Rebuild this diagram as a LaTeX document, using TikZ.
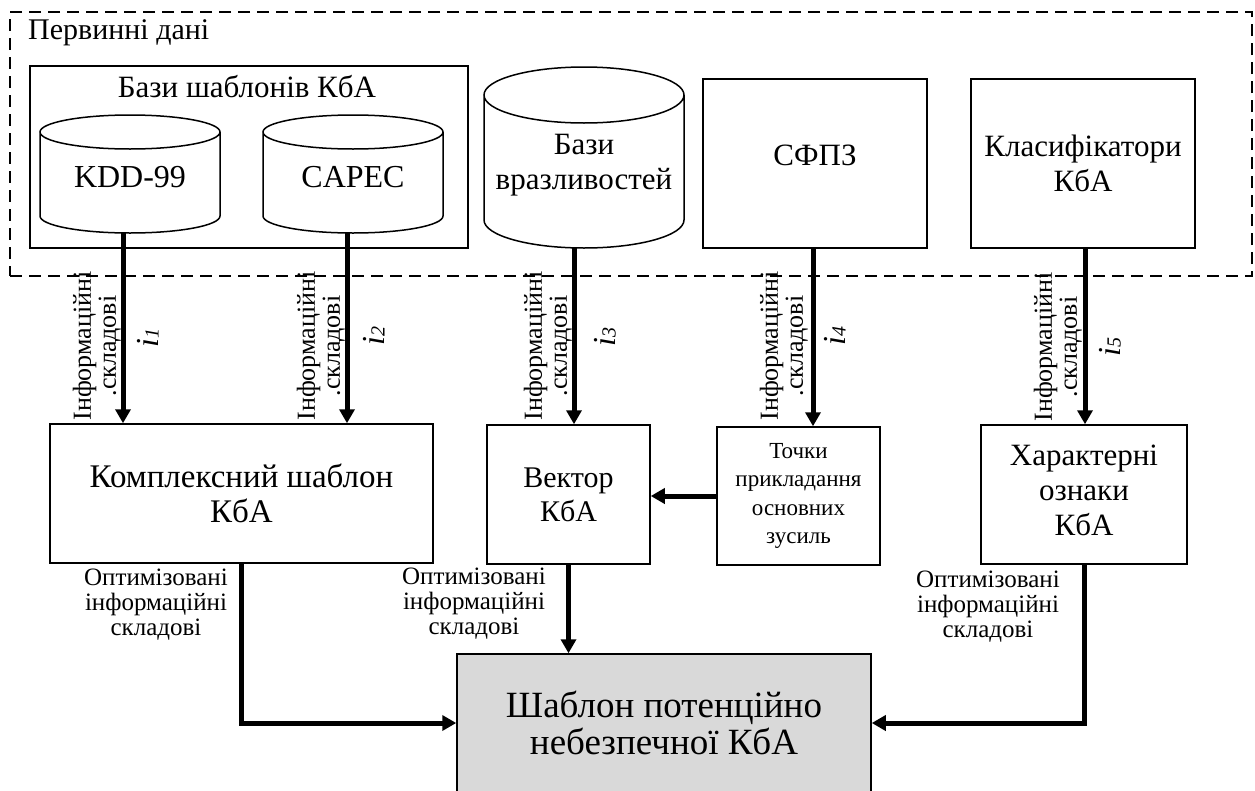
\documentclass[tikz,border=0pt]{standalone}
\usepackage{fontspec}
\setmainfont{Liberation Serif}
\usetikzlibrary{arrows.meta}
\begin{document}
\begin{tikzpicture}[x=1pt,y=-1pt,
  txt/.style 2 args={font=\fontsize{#1}{#2}\selectfont, align=center, inner sep=0pt},
  box/.style={draw, line width=1.5pt, inner sep=0pt},
  hidden/.style={inner sep=0pt},
  cylline/.style={line width=1.5pt},
  flow/.style={line width=5pt, -{Triangle[width=15pt,length=14pt]}},
  frame/.style={draw, line width=2pt, dash pattern=on 12pt off 7pt, inner sep=0pt},
  vlabel/.style={txt={26}{25}, rotate=90, anchor=south},
  ilabel/.style={font=\fontsize{32}{32}\selectfont\itshape, rotate=90, inner sep=0pt},
  optlabel/.style={txt={25}{25}}
]
\clip (0,0) rectangle (1255,790);

% primary data area
\node[frame, minimum width=1242pt, minimum height=264pt] (prim) at (631,144) {};
\node[txt={30}{32}, anchor=base west] (primt) at (28,39) {Первинні дані};

% template bases container
\node[box, minimum width=438pt, minimum height=182pt] (bazy) at (249,157) {};
\node[txt={31}{35}, anchor=base] (bazyt) at (247,97) {Бази шаблонів КбА};

% databases drawn as cylinders
\node[hidden, minimum width=180pt, minimum height=118pt] (kdd) at (130,174) {};
\draw[cylline] (40,132) -- (40,216)
  arc[start angle=180, end angle=360, x radius=90pt, y radius=17pt]
  -- (220,132) arc[start angle=0, end angle=360, x radius=90pt, y radius=17pt];
\node[txt={32}{36}] (kddt) at (130,177) {KDD-99};

\node[hidden, minimum width=180pt, minimum height=118pt] (capec) at (353,174) {};
\draw[cylline] (263,132) -- (263,216)
  arc[start angle=180, end angle=360, x radius=90pt, y radius=17pt]
  -- (443,132) arc[start angle=0, end angle=360, x radius=90pt, y radius=17pt];
\node[txt={32}{36}] (capect) at (353,177) {CAPEC};

\node[hidden, minimum width=200pt, minimum height=182pt] (vrazl) at (584,157) {};
\draw[cylline] (484,95) -- (484,220)
  arc[start angle=180, end angle=360, x radius=100pt, y radius=28pt]
  -- (684,95) arc[start angle=0, end angle=360, x radius=100pt, y radius=28pt];
\node[txt={31}{35}] (vrazlt) at (584,165) {Бази\\вразливостей};

% other sources
\node[box, minimum width=224pt, minimum height=169pt] (sfpz) at (815,163.5) {};
\node[txt={31}{35}] (sfpzt) at (815,155) {СФПЗ};
\node[box, minimum width=224pt, minimum height=169pt, txt={31}{35}] (klas) at (1083,163.5) {Класифікатори\\КбА};

% intermediate blocks
\node[box, minimum width=383pt, minimum height=139pt, txt={33}{35}] (kompl) at (241.5,493.5) {Комплексний шаблон\\КбА};
\node[box, minimum width=163pt, minimum height=139pt, txt={30}{34}] (vektor) at (568.5,494.5) {Вектор\\КбА};
\node[box, minimum width=163pt, minimum height=138pt, txt={23}{28.5}] (tochky) at (798.5,496) {Точки\\прикладання\\основних\\зусиль};
\node[box, minimum width=206pt, minimum height=139pt] (harakt) at (1084,494.5) {};
\node[txt={31}{35}] (haraktt) at (1084,490) {Характерні\\ознаки\\КбА};

% resulting template
\node[box, fill={rgb,255:red,217;green,217;blue,217}, minimum width=414pt, minimum height=138pt, txt={37}{37}] (shablon) at (664,723) {Шаблон потенційно\\небезпечної КбА};

% information components flowing down
\draw[flow] ([xshift=-7pt]kdd.south) -- ([xshift=-7pt]kdd.south |- kompl.north);
\draw[flow] ([xshift=-6pt]capec.south) -- ([xshift=-6pt]capec.south |- kompl.north);
\draw[flow] ([xshift=-10pt]vrazl.south) -- ([xshift=-10pt]vrazl.south |- vektor.north);
\draw[flow] ([xshift=-2pt]sfpz.south) -- ([xshift=-2pt]sfpz.south |- tochky.north);
\draw[flow] ([xshift=2pt]klas.south) -- ([xshift=2pt]klas.south |- harakt.north);

\node[vlabel] (l1) at (121,346) {Інформаційні\\.складові};
\node[vlabel] (l2) at (345,346) {Інформаційні\\.складові};
\node[vlabel] (l3) at (572,346) {Інформаційні\\.складові};
\node[vlabel] (l4) at (808,346) {Інформаційні\\.складові};
\node[vlabel] (l5) at (1082,347) {Інформаційні\\.складові};

\node[ilabel] (i1) at (148,338) {i{\fontsize{20}{20}\selectfont 1}};
\node[ilabel] (i2) at (374,336) {i{\fontsize{20}{20}\selectfont 2}};
\node[ilabel] (i3) at (605,337) {i{\fontsize{20}{20}\selectfont 3}};
\node[ilabel] (i4) at (835,336) {i{\fontsize{20}{20}\selectfont 4}};
\node[ilabel] (i5) at (1110,347) {i{\fontsize{20}{20}\selectfont 5}};

% optimised components into the template
\draw[flow] (tochky.west) -- (tochky.west -| vektor.east);
\draw[flow] (kompl.south) |- (shablon.west);
\draw[flow] (vektor.south) -- (vektor.south |- shablon.north);
\draw[flow] (harakt.south) |- (shablon.east);

\node[optlabel] (o1) at (156,605) {Оптимізовані\\інформаційні\\складові};
\node[optlabel] (o2) at (474,604) {Оптимізовані\\інформаційні\\складові};
\node[optlabel] (o3) at (988,607) {Оптимізовані\\інформаційні\\складові};
\end{tikzpicture}
\end{document}
